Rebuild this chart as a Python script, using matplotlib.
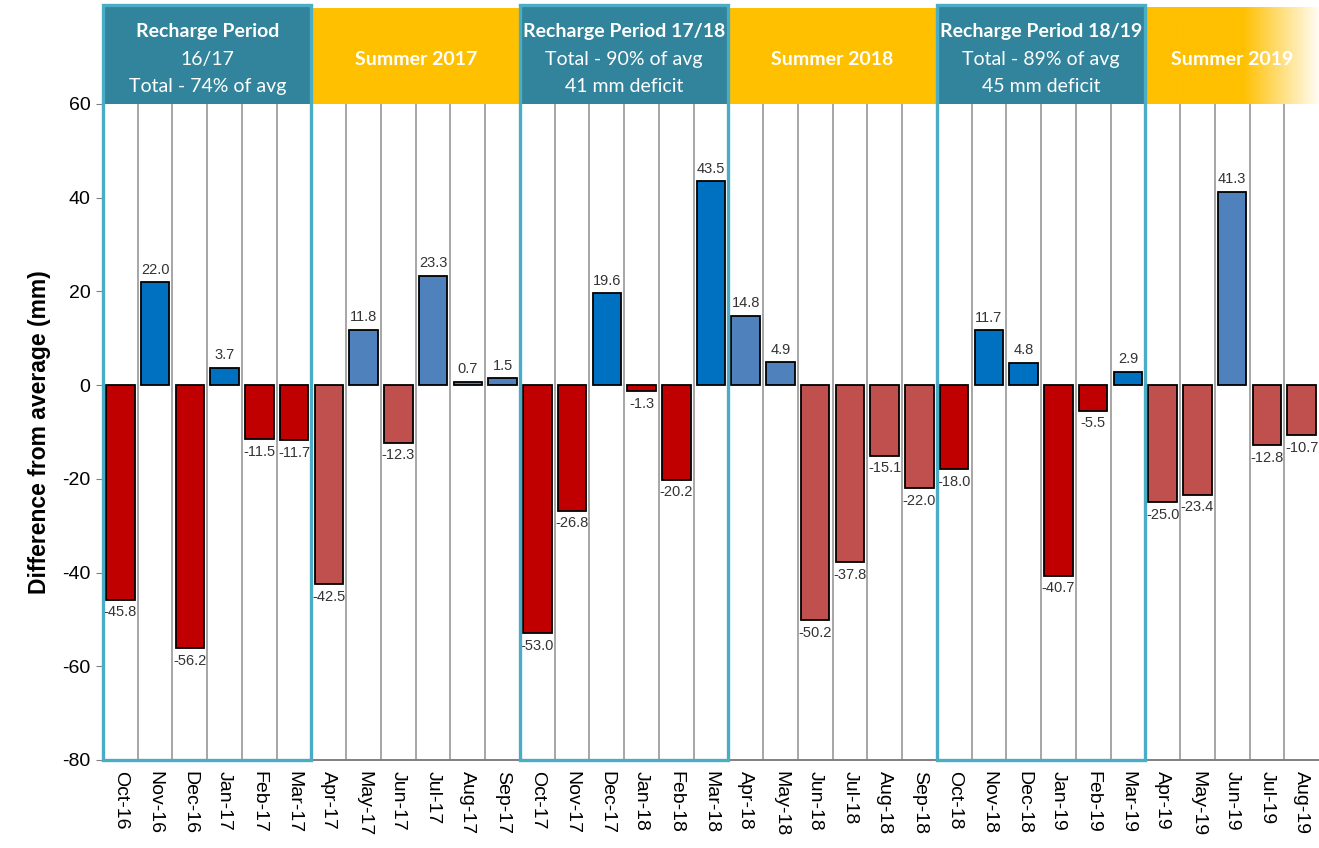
"""Monthly rainfall difference from average, split into recharge and summer periods."""

import matplotlib

matplotlib.use("Agg")
import matplotlib.pyplot as plt
import numpy as np
from matplotlib.patches import Rectangle
from matplotlib.transforms import blended_transform_factory

MONTHS = [
    "Oct-16", "Nov-16", "Dec-16", "Jan-17", "Feb-17", "Mar-17",
    "Apr-17", "May-17", "Jun-17", "Jul-17", "Aug-17", "Sep-17",
    "Oct-17", "Nov-17", "Dec-17", "Jan-18", "Feb-18", "Mar-18",
    "Apr-18", "May-18", "Jun-18", "Jul-18", "Aug-18", "Sep-18",
    "Oct-18", "Nov-18", "Dec-18", "Jan-19", "Feb-19", "Mar-19",
    "Apr-19", "May-19", "Jun-19", "Jul-19", "Aug-19",
]
DIFF_MM = [
    -45.8, 22.0, -56.2, 3.7, -11.5, -11.7,
    -42.5, 11.8, -12.3, 23.3, 0.7, 1.5,
    -53.0, -26.8, 19.6, -1.3, -20.2, 43.5,
    14.8, 4.9, -50.2, -37.8, -15.1, -22.0,
    -18.0, 11.7, 4.8, -40.7, -5.5, 2.9,
    -25.0, -23.4, 41.3, -12.8, -10.7,
]
# (first month index, last month index, kind, header lines)
PERIODS = [
    (0, 5, "recharge", ["Recharge Period", "16/17", "Total - 74% of avg"]),
    (6, 11, "summer", ["Summer 2017"]),
    (12, 17, "recharge", ["Recharge Period 17/18", "Total - 90% of avg", "41 mm deficit"]),
    (18, 23, "summer", ["Summer 2018"]),
    (24, 29, "recharge", ["Recharge Period 18/19", "Total - 89% of avg", "45 mm deficit"]),
    (30, 34, "summer", ["Summer 2019"]),
]

COLORS = {
    "recharge": {"neg": "#C00000", "pos": "#0070C0"},
    "summer": {"neg": "#C0504D", "pos": "#4F81BD"},
}
TEAL = "#31849B"
CYAN = "#4BACC6"
YELLOW = "#FFC000"

plt.rcParams["axes.unicode_minus"] = False

W, H = 1319, 848
fig = plt.figure(figsize=(W / 100, H / 100), dpi=100)
left, right = 103 / W, 1.0
ax = fig.add_axes([left, 1 - 760 / H, right - left, (760 - 104) / H])
head = fig.add_axes([left, 1 - 104 / H, right - left, (104 - 5) / H])

n = len(MONTHS)
x = np.arange(n)
kinds = [None] * n
for start, end, kind, _ in PERIODS:
    for i in range(start, end + 1):
        kinds[i] = kind

bar_colors = [COLORS[k]["neg" if v < 0 else "pos"] for k, v in zip(kinds, DIFF_MM)]
ax.bar(x, DIFF_MM, width=0.82, color=bar_colors, edgecolor="black", linewidth=1.3, zorder=3)

for xi, v in zip(x, DIFF_MM):
    if v >= 0:
        ax.annotate(f"{v:.1f}", (xi, v), xytext=(0, 4), textcoords="offset points",
                    ha="center", va="bottom", fontsize=10.5, color="#333333",
                    family="Liberation Sans", zorder=4)
    else:
        ax.annotate(f"{v:.1f}", (xi, v), xytext=(0, -4), textcoords="offset points",
                    ha="center", va="top", fontsize=10.5, color="#333333",
                    family="Liberation Sans", zorder=4)

ax.set_xlim(-0.5, n - 0.5)
ax.set_ylim(-80, 60)
ax.set_yticks(np.arange(-80, 61, 20))
ax.set_xticks(x)
ax.set_xticklabels(MONTHS, rotation=270, fontsize=14, family="Liberation Sans")
ax.tick_params(axis="x", length=0, pad=8)
ax.tick_params(axis="y", labelsize=14, length=5, color="#808080", pad=4)
for lab in ax.get_yticklabels():
    lab.set_family("Liberation Sans")
for b in np.arange(0.5, n - 0.5, 1):
    ax.axvline(b, color="#A6A6A6", linewidth=1.4, zorder=1)
for side in ["top", "right", "left"]:
    ax.spines[side].set_visible(False)
ax.spines["bottom"].set_color("#808080")
ax.spines["bottom"].set_linewidth(1.4)
ax.set_ylabel("Difference from average (mm)", fontsize=16.5, fontweight="bold",
              family="Liberation Sans", labelpad=8)

# header bands above the plot
head.set_xlim(-0.5, n - 0.5)
head.set_ylim(0, 1)
head.axis("off")
for start, end, kind, lines in PERIODS:
    x0, x1 = start - 0.5, end + 0.5
    if kind == "recharge":
        head.add_patch(Rectangle((x0, 0), x1 - x0, 1, facecolor=TEAL, edgecolor="none"))
        ys = [0.73, 0.45, 0.18]
        for k, (yy, line) in enumerate(zip(ys, lines)):
            head.text((x0 + x1) / 2, yy, line, ha="center", va="center", color="white",
                      fontsize=14, family="Lato", fontweight="bold" if k == 0 else "normal")
    else:
        if end == n - 1:
            grad = np.linspace(0, 1, 256)
            fade = np.clip((grad - 0.55) / 0.45, 0, 1)
            yellow = np.array(matplotlib.colors.to_rgb(YELLOW))
            img = yellow[None, :] * (1 - fade[:, None]) + fade[:, None]
            head.imshow(img[None, :, :], extent=(x0, x1 + 0.1, 0, 0.97), aspect="auto")
        else:
            head.add_patch(Rectangle((x0, 0), x1 - x0, 0.97, facecolor=YELLOW, edgecolor="none"))
        head.text((x0 + x1) / 2, 0.45, lines[0], ha="center", va="center", color="white",
                  fontsize=14, family="Lato", fontweight="bold")

# cyan outline round each recharge period, from header top to the axis floor
trans = blended_transform_factory(ax.transData, fig.transFigure)
for start, end, kind, _ in PERIODS:
    if kind != "recharge":
        continue
    x0, x1 = start - 0.5, end + 0.5
    fig.add_artist(Rectangle((x0, 1 - 760 / H), x1 - x0, (760 - 5) / H, transform=trans,
                             facecolor="none", edgecolor=CYAN, linewidth=2.4, zorder=10))

fig.savefig("out.png", dpi=100)
